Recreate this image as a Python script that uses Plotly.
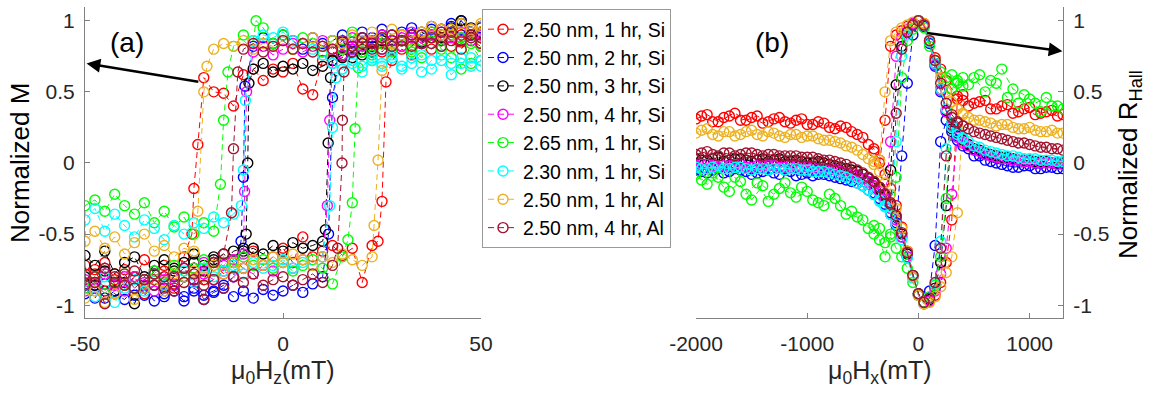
import plotly.graph_objects as go

# ---------------- panel (a): M vs mu0 Hz (mT) ----------------
HZ = [-50, -47.5, -45, -42.5, -40, -37.5, -35, -32.5, -30, -27.5, -25, -22.5, -20, -17.5, -15, -12.5,
      -10, -7.5, -5, -2.5, 0, 2.5, 5, 7.5, 10, 12.5, 15, 17.5, 20, 22.5, 25, 27.5, 30, 32.5, 35, 37.5,
      40, 42.5, 45, 47.5, 50]

NAMES = ["2.50 nm, 1 hr, Si", "2.50 nm, 2 hr, Si", "2.50 nm, 3 hr, Si", "2.50 nm, 4 hr, Si",
         "2.65 nm, 1 hr, Si", "2.30 nm, 1 hr, Si", "2.50 nm, 1 hr, Al", "2.50 nm, 4 hr, Al"]
COLORS = ["#ff0000", "#0000ff", "#000000", "#ff00ff", "#00ff00", "#00ffff", "#edb120", "#a2142f"]

# descending sweep (values listed in ascending field order) and ascending sweep
RED_DN = [-0.72, -0.78, -0.70, -0.82, -0.75, -0.80, -0.68, -0.78, -0.72, -0.85, -0.66, -0.18, 0.60, 0.50, 0.49, 0.40, 0.62, 0.66, 0.58, 0.66, 0.64, 0.70, 0.52, 0.48, 0.72, 0.78, 0.75, 0.82, 0.80, 0.85, 0.78, 0.86, 0.82, 0.88, 0.84, 0.90, 0.86, 0.92, 0.85, 0.90, 0.88]
RED_UP = [-0.85, -0.75, -0.90, -0.78, -0.86, -0.80, -0.92, -0.82, -0.76, -0.88, -0.80, -0.74, -0.82, -0.70, -0.78, -0.68, -0.74, -0.62, -0.72, -0.66, -0.60, -0.70, -0.52, -0.66, -0.62, -0.58, -0.65, -0.60, -0.84, -0.58, -0.27, 0.72, 0.80, 0.76, 0.84, 0.80, 0.88, 0.82, 0.90, 0.86, 0.82]
BLUE_DN = [-0.88, -0.95, -0.85, -0.92, -0.96, -0.88, -0.93, -0.86, -0.94, -0.90, -0.97, -0.88, -0.93, -0.90, -0.86, -0.80, -0.10, 0.82, 0.88, 0.84, 0.90, 0.86, 0.80, 0.88, 0.84, 0.86, 0.90, 0.85, 0.92, 0.88, 0.94, 0.90, 0.86, 0.95, 0.90, 0.96, 0.92, 0.98, 0.94, 0.90, 0.96]
BLUE_UP = [-0.92, -0.86, -0.95, -0.90, -0.84, -0.93, -0.88, -0.97, -0.92, -0.86, -0.94, -0.90, -0.96, -0.91, -0.88, -0.94, -0.90, -0.95, -0.89, -0.93, -0.90, -0.86, -0.91, -0.85, -0.80, 0.46, 0.85, 0.80, 0.88, 0.84, 0.90, 0.86, 0.92, 0.88, 0.84, 0.94, 0.90, 0.96, 1.00, 0.92, 0.95]
BLACK_DN = [-0.65, -0.72, -0.62, -0.78, -0.70, -0.66, -0.80, -0.72, -0.68, -0.76, -0.70, -0.64, -0.72, -0.66, -0.70, -0.62, -0.60, 0.66, 0.70, 0.64, 0.68, 0.66, 0.70, 0.65, 0.68, 0.72, 0.76, 0.74, 0.80, 0.78, 0.84, 0.80, 0.86, 0.90, 0.85, 0.92, 0.88, 0.95, 0.98, 0.92, 0.96]
BLACK_UP = [-0.80, -0.86, -0.76, -0.90, -0.84, -0.99, -0.82, -0.78, -0.86, -0.74, -0.80, -0.70, -0.76, -0.68, -0.64, -0.70, -0.62, -0.60, -0.64, -0.58, -0.62, -0.56, -0.60, -0.58, -0.55, 0.72, 0.74, 0.78, 0.76, 0.82, 0.86, 0.82, 0.90, 0.86, 0.92, 0.88, 0.94, 0.90, 1.00, 0.95, 0.92]
MAG_DN = [-0.82, -0.88, -0.78, -0.85, -0.90, -0.80, -0.86, -0.76, -0.84, -0.80, -0.74, -0.82, -0.70, -0.76, -0.72, -0.68, -0.64, 0.78, 0.82, 0.76, 0.80, 0.84, 0.78, 0.82, 0.86, 0.80, 0.84, 0.88, 0.82, 0.86, 0.90, 0.84, 0.88, 0.92, 0.86, 0.90, 0.94, 0.88, 0.92, 0.86, 0.90]
MAG_UP = [-0.90, -0.84, -0.92, -0.86, -0.80, -0.88, -0.84, -0.90, -0.82, -0.86, -0.80, -0.84, -0.78, -0.82, -0.76, -0.80, -0.74, -0.78, -0.72, -0.76, -0.70, -0.74, -0.68, -0.72, -0.66, 0.70, 0.76, 0.80, 0.78, 0.84, 0.80, 0.86, 0.82, 0.88, 0.84, 0.90, 0.86, 0.92, 0.88, 0.94, 0.90]
GREEN_DN = [-0.30, -0.26, -0.34, -0.22, -0.30, -0.36, -0.28, -0.42, -0.34, -0.45, -0.38, -0.50, -0.42, -0.48, 0.30, 0.82, 0.90, 0.86, 0.95, 0.84, 0.90, 0.80, 0.88, 0.84, 0.78, 0.86, 0.80, 0.92, 0.84, 0.76, 0.88, 0.82, 0.90, 0.78, 0.86, 0.92, 0.80, 0.74, 0.88, 0.70, 0.82]
GREEN_UP = [-0.88, -0.80, -0.92, -0.84, -0.78, -0.88, -0.82, -0.76, -0.84, -0.72, -0.80, -0.74, -0.68, -0.76, -0.70, -0.74, -0.66, -0.72, -0.68, -0.74, -0.70, -0.76, -0.72, -0.68, -0.74, -0.85, -0.66, -0.28, 0.78, 0.72, 0.84, 0.78, 0.86, 0.80, 0.74, 0.88, 0.82, 0.92, 0.66, 0.84, 0.72]
CYAN_DN = [-0.40, -0.32, -0.48, -0.36, -0.44, -0.52, -0.40, -0.46, -0.54, -0.44, -0.50, -0.42, -0.46, -0.38, -0.42, -0.36, -0.05, 0.86, 0.90, 0.88, 0.92, 0.86, 0.84, 0.80, 0.76, 0.70, 0.66, 0.72, 0.68, 0.74, 0.70, 0.76, 0.68, 0.74, 0.64, 0.72, 0.76, 0.70, 0.74, 0.68, 0.72]
CYAN_UP = [-0.86, -0.94, -0.80, -0.98, -0.88, -0.82, -0.90, -0.78, -0.86, -0.80, -0.76, -0.84, -0.74, -0.80, -0.76, -0.72, -0.78, -0.70, -0.74, -0.72, -0.68, -0.74, -0.70, -0.72, -0.66, 0.25, 0.66, 0.70, 0.64, 0.72, 0.68, 0.74, 0.66, 0.70, 0.76, 0.66, 0.72, 0.62, 0.70, 0.74, 0.68]
ORANGE_DN = [-0.55, -0.48, -0.60, -0.52, -0.64, -0.56, -0.50, -0.62, -0.58, -0.66, -0.60, -0.62, 0.50, 0.80, 0.84, 0.82, 0.86, 0.80, 0.84, 0.82, 0.86, 0.80, 0.84, 0.88, 0.82, 0.86, 0.84, 0.90, 0.86, 0.92, 0.88, 0.94, 0.90, 0.86, 0.92, 0.96, 0.90, 0.94, 0.98, 0.92, 0.96]
ORANGE_UP = [-0.95, -0.90, -0.98, -0.92, -0.86, -0.96, -0.88, -0.82, -0.90, -0.78, -0.84, -0.76, -0.80, -0.72, -0.78, -0.70, -0.74, -0.68, -0.72, -0.66, -0.70, -0.64, -0.68, -0.72, -0.66, -0.70, -0.64, -0.68, -0.72, -0.66, 0.65, 0.84, 0.90, 0.86, 0.92, 0.88, 0.94, 0.90, 0.86, 0.94, 0.98]
MAROON_DN = [-0.78, -0.84, -0.74, -0.80, -0.86, -0.76, -0.82, -0.78, -0.88, -0.80, -0.74, -0.82, -0.96, -0.70, -0.64, 0.10, 0.80, 0.84, 0.78, 0.82, 0.86, 0.80, 0.84, 0.78, 0.82, 0.80, 0.86, 0.82, 0.88, 0.84, 0.80, 0.90, 0.86, 0.82, 0.90, 0.84, 0.92, 0.86, 0.80, 0.88, 0.84]
MAROON_UP = [-0.86, -0.80, -0.99, -0.84, -0.78, -0.88, -0.82, -0.86, -0.80, -0.90, -0.84, -0.78, -0.86, -0.82, -0.88, -0.80, -0.84, -0.78, -0.86, -0.82, -0.80, -0.86, -0.82, -0.78, -0.84, -0.72, 0.30, 0.78, 0.84, 0.80, 0.88, 0.82, 0.86, 0.90, 0.84, 0.88, 0.82, 0.92, 0.86, 0.90, 0.84]

# extra points measured on the switching edges (field, M)
DN_SW_X = [[-21.5, -23.0], [-9.6, -10.6], [-8.6, -8.9, -9.3], [-9.2, -9.7], [-13.9, -15.8, -6.8], [-9.5, -10.5], [-19.2, -21.5], [-11.4, -13.0]]
DN_SW_Y = [[0.13, -0.50], [0.54, -0.55], [0.56, 0.0, -0.50], [0.50, -0.20], [0.64, -0.15, 1.0], [0.44, -0.30], [0.68, -0.34], [0.64, -0.35]]
UP_SW_X = [[24.0, 26.0], [11.5], [10.7, 11.4, 12.0], [11.2, 11.8], [16.4, 18.2, 19.0], [11.8, 13.4], [23.0, 24.0], [13.8, 14.9, 15.4]]
UP_SW_Y = [[-0.55, 0.57], [-0.50], [-0.47, 0.14, 0.60], [-0.30, 0.30], [-0.54, 0.24, 0.67], [-0.30, 0.60], [-0.44, 0.02], [-0.60, 0.0, 0.64]]

# ---------------- panel (b): R_Hall vs mu0 Hx (mT) ----------------
HXA = [-2000, -1900, -1800, -1700, -1600, -1500, -1400, -1300, -1200, -1100, -1000, -900, -800, -700, -600, -500,
       -400, -350, -300, -250, -200, -150, -100, -50, 0, 50, 100, 150, 200, 250, 300, 350, 400,
       500, 600, 700, 800, 900, 1000, 1100, 1200, 1300]
HXB = [-1950, -1850, -1750, -1650, -1550, -1450, -1350, -1250, -1150, -1050, -950, -850, -750, -650, -550, -450,
       -400, -350, -300, -250, -200, -150, -100, -50, 0, 50, 100, 150, 200, 250, 300, 350, 400,
       450, 550, 650, 750, 850, 950, 1050, 1150, 1250]

RED_A = [0.31, 0.34, 0.29, 0.33, 0.30, 0.32, 0.28, 0.31, 0.29, 0.30, 0.27, 0.29, 0.25, 0.26, 0.22, 0.18, 0.08, 0.02, -0.08, -0.18, -0.30, -0.45, -0.62, -0.80, -0.93, -0.99, -0.97, -0.93, -0.84, -0.70, -0.40, 0.45, 0.48, 0.42, 0.44, 0.38, 0.41, 0.36, 0.39, 0.35, 0.37, 0.34]
RED_B = [0.33, 0.29, 0.32, 0.35, 0.30, 0.33, 0.29, 0.32, 0.28, 0.31, 0.27, 0.28, 0.24, 0.25, 0.20, 0.13, 0.10, 0.00, 0.30, 0.82, 0.90, 0.93, 0.96, 0.98, 1.00, 0.98, 0.86, 0.74, 0.66, 0.58, 0.52, 0.47, 0.44, 0.40, 0.43, 0.38, 0.40, 0.35, 0.38, 0.34, 0.36, 0.33]
BLUE_A = [-0.05, -0.07, -0.04, -0.06, -0.05, -0.08, -0.06, -0.07, -0.05, -0.09, -0.07, -0.08, -0.09, -0.11, -0.13, -0.16, -0.21, -0.25, -0.29, -0.35, -0.42, -0.52, -0.66, -0.80, -0.92, -0.98, -0.90, -0.58, 0.15, 0.30, 0.22, 0.16, 0.12, 0.05, 0.02, 0.00, -0.02, -0.03, -0.02, -0.04, -0.03, -0.04]
BLUE_B = [-0.06, -0.05, -0.07, -0.04, -0.06, -0.07, -0.05, -0.08, -0.06, -0.08, -0.09, -0.08, -0.10, -0.12, -0.14, -0.19, -0.22, -0.26, -0.30, -0.36, -0.44, 0.05, 0.56, 0.90, 1.00, 0.96, 0.84, 0.68, 0.50, 0.36, 0.26, 0.19, 0.14, 0.10, 0.05, 0.01, -0.01, -0.03, -0.02, -0.04, -0.03, -0.04]
BLACK_A = [0.03, 0.02, 0.04, 0.02, 0.03, 0.01, 0.03, 0.02, 0.01, 0.02, 0.00, 0.01, -0.01, -0.03, -0.05, -0.08, -0.14, -0.18, -0.23, -0.30, -0.38, -0.50, -0.64, -0.79, -0.92, -0.98, -0.96, -0.88, -0.70, -0.30, 0.24, 0.20, 0.16, 0.10, 0.07, 0.05, 0.04, 0.02, 0.02, 0.01, 0.00, 0.00]
BLACK_B = [0.02, 0.03, 0.01, 0.03, 0.02, 0.02, 0.01, 0.03, 0.01, 0.01, 0.00, 0.00, -0.02, -0.04, -0.06, -0.11, -0.14, -0.19, -0.25, -0.05, 0.55, 0.82, 0.92, 0.97, 1.00, 0.97, 0.85, 0.70, 0.52, 0.37, 0.27, 0.21, 0.17, 0.13, 0.09, 0.06, 0.04, 0.03, 0.02, 0.01, 0.01, 0.00]
MAG_A = [-0.02, -0.01, -0.03, -0.02, -0.01, -0.03, -0.02, -0.02, -0.03, -0.02, -0.03, -0.04, -0.05, -0.06, -0.08, -0.11, -0.16, -0.20, -0.25, -0.32, -0.40, -0.52, -0.66, -0.80, -0.93, -0.99, -0.97, -0.90, -0.78, -0.60, -0.22, 0.18, 0.14, 0.09, 0.06, 0.04, 0.03, 0.02, 0.01, 0.00, 0.00, -0.01]
MAG_B = [-0.01, -0.02, -0.02, -0.01, -0.03, -0.02, -0.02, -0.03, -0.02, -0.03, -0.03, -0.04, -0.05, -0.07, -0.09, -0.13, -0.16, -0.20, -0.26, 0.15, 0.75, 0.88, 0.94, 0.98, 1.00, 0.97, 0.85, 0.69, 0.51, 0.36, 0.26, 0.20, 0.15, 0.12, 0.08, 0.05, 0.03, 0.02, 0.01, 0.00, 0.00, -0.01]
GREEN_A = [-0.08, -0.15, -0.10, -0.20, -0.13, -0.26, -0.16, -0.22, -0.14, -0.24, -0.20, -0.28, -0.22, -0.30, -0.34, -0.40, -0.50, -0.46, -0.56, -0.52, -0.60, -0.66, -0.74, -0.84, -0.93, -0.98, -0.94, -0.86, -0.66, -0.25, 0.52, 0.58, 0.54, 0.60, 0.50, 0.56, 0.46, 0.42, 0.45, 0.36, 0.40, 0.38]
GREEN_B = [-0.12, -0.07, -0.17, -0.10, -0.22, -0.14, -0.27, -0.18, -0.21, -0.17, -0.26, -0.30, -0.25, -0.36, -0.38, -0.46, -0.44, -0.54, -0.66, -0.50, -0.10, 0.60, 0.86, 0.94, 1.00, 0.95, 0.82, 0.72, 0.64, 0.60, 0.62, 0.56, 0.60, 0.55, 0.62, 0.58, 0.66, 0.52, 0.48, 0.42, 0.46, 0.40]
CYAN_A = [-0.03, -0.04, -0.02, -0.04, -0.03, -0.05, -0.04, -0.04, -0.05, -0.04, -0.05, -0.06, -0.07, -0.09, -0.12, -0.16, -0.22, -0.26, -0.30, -0.36, -0.43, -0.54, -0.67, -0.81, -0.93, -0.99, -0.95, -0.85, -0.55, 0.10, 0.25, 0.20, 0.17, 0.12, 0.09, 0.07, 0.05, 0.04, 0.03, 0.02, 0.02, 0.01]
CYAN_B = [-0.04, -0.03, -0.04, -0.03, -0.04, -0.04, -0.05, -0.04, -0.04, -0.05, -0.06, -0.06, -0.08, -0.10, -0.14, -0.19, -0.22, -0.27, -0.31, -0.36, 0.15, 0.75, 0.90, 0.97, 1.00, 0.97, 0.85, 0.70, 0.52, 0.38, 0.28, 0.22, 0.18, 0.15, 0.11, 0.08, 0.06, 0.05, 0.03, 0.03, 0.02, 0.01]
ORANGE_A = [0.21, 0.24, 0.19, 0.22, 0.20, 0.23, 0.19, 0.21, 0.18, 0.20, 0.19, 0.17, 0.16, 0.14, 0.11, 0.06, -0.01, -0.06, -0.14, -0.22, -0.32, -0.46, -0.62, -0.80, -0.93, -0.99, -0.98, -0.94, -0.87, -0.77, -0.66, -0.35, 0.34, 0.30, 0.29, 0.26, 0.27, 0.24, 0.25, 0.22, 0.23, 0.21]
ORANGE_B = [0.23, 0.20, 0.22, 0.19, 0.22, 0.20, 0.22, 0.19, 0.20, 0.18, 0.19, 0.16, 0.15, 0.12, 0.09, 0.03, 0.01, 0.02, 0.50, 0.86, 0.92, 0.95, 0.97, 0.99, 1.00, 0.98, 0.86, 0.72, 0.60, 0.50, 0.43, 0.38, 0.35, 0.32, 0.30, 0.28, 0.27, 0.25, 0.24, 0.23, 0.22, 0.21]
MAROON_A = [0.06, 0.08, 0.05, 0.07, 0.06, 0.07, 0.05, 0.06, 0.05, 0.05, 0.04, 0.03, 0.02, 0.00, -0.03, -0.07, -0.13, -0.17, -0.22, -0.29, -0.37, -0.49, -0.63, -0.79, -0.92, -0.98, -0.95, -0.84, -0.60, 0.05, 0.32, 0.28, 0.26, 0.22, 0.20, 0.18, 0.16, 0.14, 0.13, 0.11, 0.10, 0.09]
MAROON_B = [0.07, 0.06, 0.07, 0.05, 0.07, 0.06, 0.06, 0.05, 0.05, 0.04, 0.04, 0.02, 0.01, -0.01, -0.05, -0.10, -0.13, -0.17, -0.22, -0.28, 0.35, 0.80, 0.92, 0.97, 1.00, 0.97, 0.86, 0.72, 0.56, 0.42, 0.34, 0.29, 0.26, 0.24, 0.21, 0.19, 0.17, 0.15, 0.14, 0.12, 0.11, 0.10]

DN = [RED_DN, BLUE_DN, BLACK_DN, MAG_DN, GREEN_DN, CYAN_DN, ORANGE_DN, MAROON_DN]
UP = [RED_UP, BLUE_UP, BLACK_UP, MAG_UP, GREEN_UP, CYAN_UP, ORANGE_UP, MAROON_UP]
BA = [RED_A, BLUE_A, BLACK_A, MAG_A, GREEN_A, CYAN_A, ORANGE_A, MAROON_A]
BB = [RED_B, BLUE_B, BLACK_B, MAG_B, GREEN_B, CYAN_B, ORANGE_B, MAROON_B]

W, H = 1161, 398
AX = "#808080"
FONT = "Liberation Sans, Arial, Helvetica, sans-serif"


def px(v):
    return v / W


def py(v):
    return 1 - v / H


def merge(xg, yg, xe, ye, reverse):
    pts = sorted(zip(list(xg) + list(xe), list(yg) + list(ye)), key=lambda p: p[0], reverse=reverse)
    return [p[0] for p in pts], [p[1] for p in pts]


def style(i):
    return dict(line=dict(color=COLORS[i], width=1, dash="6px,4px"),
                marker=dict(symbol="circle-open", size=10, color=COLORS[i],
                            line=dict(width=1.4, color=COLORS[i])))


fig = go.Figure()
for i in range(8):
    xd, yd = merge(HZ, DN[i], DN_SW_X[i], DN_SW_Y[i], True)
    xu, yu = merge(HZ, UP[i], UP_SW_X[i], UP_SW_Y[i], False)
    fig.add_trace(go.Scatter(x=xd + xu, y=yd + yu, mode="lines+markers", name=NAMES[i],
                             xaxis="x", yaxis="y", **style(i)))
for i in range(8):
    xb = HXB[::-1]
    yb = BB[i][::-1]
    fig.add_trace(go.Scatter(x=xb + HXA, y=yb + BA[i], mode="lines+markers", name=NAMES[i],
                             showlegend=False, xaxis="x2", yaxis="y2", **style(i)))

ydom = [py(318), py(6.5)]
common_axis = dict(ticks="inside", ticklen=5, tickcolor=AX, showline=True, linecolor=AX, linewidth=1,
                   showgrid=False, zeroline=False, automargin=False,
                   tickfont=dict(size=21, color="#262626", family=FONT))
YT = [-1, -0.5, 0, 0.5, 1]
YTT = ["-1", "-0.5", "0", "0.5", "1"]

fig.update_layout(
    width=W, height=H, margin=dict(l=0, r=0, t=0, b=0, autoexpand=False),
    paper_bgcolor="white", plot_bgcolor="white",
    font=dict(family=FONT, color="#262626"),
    xaxis=dict(domain=[px(85), px(481)], range=[-50, 50], tickvals=[-50, 0, 50], ticktext=["-50", "0", "50"],
               anchor="y", ticklabelstandoff=7, **common_axis),
    yaxis=dict(domain=ydom, range=[-1.09, 1.1], tickvals=YT, ticktext=YTT, anchor="x",
               ticklabelstandoff=5, **common_axis),
    xaxis2=dict(domain=[px(696), px(1063)], range=[-2000, 1300], tickvals=[-2000, -1000, 0, 1000],
                ticktext=["-2000", "-1000", "0", "1000"], anchor="y2", ticklabelstandoff=7, **common_axis),
    yaxis2=dict(domain=ydom, range=[-1.09, 1.1], tickvals=YT, ticktext=YTT, anchor="x2", side="right",
                ticklabelstandoff=5, **common_axis),
    legend=dict(x=px(482), y=py(9), xanchor="left", yanchor="top", bordercolor="#999999", borderwidth=1,
                bgcolor="white", font=dict(size=19.5, color="#000000", family=FONT), tracegroupgap=0),
    showlegend=True,
)


def label(text, x, y, size, angle=0, color="#000000"):
    return dict(text=text, x=px(x), y=py(y), xref="paper", yref="paper", showarrow=False,
                xanchor="center", yanchor="middle", textangle=angle, font=dict(size=size, color=color))


ann = [
    label("(a)", 127, 42, 28),
    label("(b)", 772, 42, 28),
    label("Normalized M", 20, 163, 26, -90),
    label("Normalized R<sub>Hall</sub>", 1130, 165, 26, -90),
    label("μ<sub>0</sub>H<sub>z</sub>(mT)", 283, 372, 25, 0, "#262626"),
    label("μ<sub>0</sub>H<sub>x</sub>(mT)", 880, 372, 25, 0, "#262626"),
    dict(text="", x=-49.6, y=0.70, ax=-21, ay=0.57, xref="x", yref="y", axref="x", ayref="y",
         showarrow=True, arrowhead=2, arrowsize=1.1, arrowwidth=2.5, arrowcolor="#000000"),
    dict(text="", x=1295, y=0.786, ax=63, ay=0.915, xref="x2", yref="y2", axref="x2", ayref="y2",
         showarrow=True, arrowhead=2, arrowsize=1.1, arrowwidth=2.5, arrowcolor="#000000"),
]
fig.update_layout(annotations=ann)

fig.write_html("out.html")
